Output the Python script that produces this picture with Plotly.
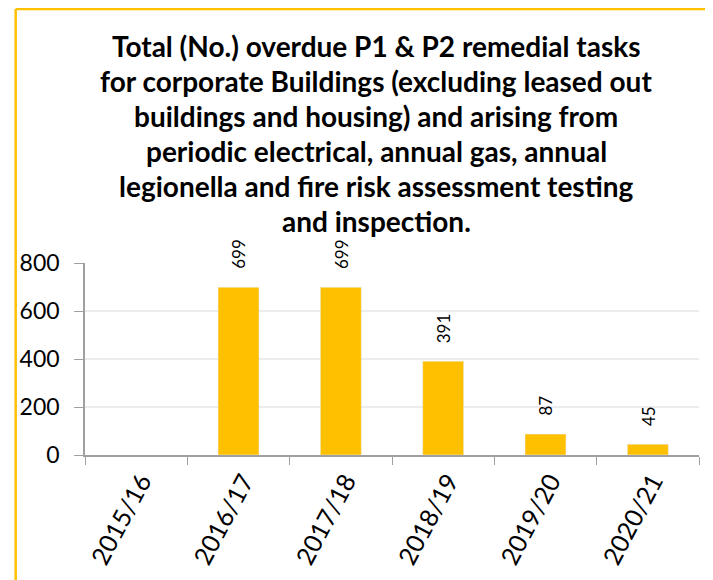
import plotly.graph_objects as go

years = ["2015/16", "2016/17", "2017/18", "2018/19", "2019/20", "2020/21"]
overdue = [None, 699, 699, 391, 87, 45]
title_lines = [
    "Total (No.) overdue P1 & P2 remedial tasks",
    "for corporate Buildings (excluding leased out",
    "buildings and housing) and arising from",
    "periodic electrical, annual gas, annual",
    "legionella and fire risk assessment testing",
    "and inspection.",
]

W, H = 713, 580
OFF = 8  # page margin around the figure
L, R, T, B = 71, 22, 255, 133
gold = "rgb(255,192,0)"


def px_x(px):
    # page pixel -> paper x
    return (px - OFF - L) / (W - L - R)


def px_y(py):
    return (H - B - (py - OFF)) / (H - T - B)


fig = go.Figure()
fig.add_trace(go.Bar(x=years, y=overdue, marker_color=gold, width=0.4))

# data labels above the bars
for yr, v in zip(years, overdue):
    if v is None:
        continue
    fig.add_annotation(x=yr, y=v, text=str(v), showarrow=False, textangle=-90,
                       yanchor="bottom", yshift=16,
                       font=dict(family="Lato", size=17, color="black"))

# title, one annotation per line
for i, line in enumerate(title_lines):
    fig.add_annotation(x=px_x(373), y=px_y(46 + 35 * i), xref="paper", yref="paper",
                       text="<b>" + line + "</b>", showarrow=False,
                       xanchor="center", yanchor="middle",
                       font=dict(family="Lato", size=28, color="black"))

# gold frame (top and left edges visible)
fig.add_shape(type="line", xref="paper", yref="paper",
              x0=px_x(9), x1=px_x(W + 10), y0=px_y(9), y1=px_y(9),
              line=dict(color=gold, width=2.5))
fig.add_shape(type="line", xref="paper", yref="paper",
              x0=px_x(9), x1=px_x(9), y0=px_y(9), y1=px_y(H + 10),
              line=dict(color=gold, width=2.5))

fig.update_layout(
    width=W, height=H,
    margin=dict(l=L, r=R, t=T, b=B),
    plot_bgcolor="white", paper_bgcolor="white",
    showlegend=False,
    font=dict(family="Lato", color="black"),
)
fig.update_xaxes(type="category", showline=True, linecolor="#a0a0a0", linewidth=1.5,
                 ticks="outside", tickson="boundaries", ticklen=8, tickcolor="#a0a0a0",
                 tickangle=-62, ticklabelshift=5,
                 tickfont=dict(family="Lato", size=25, color="black"),
                 showgrid=False)
fig.update_yaxes(range=[0, 800], tickvals=[0, 200, 400, 600, 800],
                 showline=True, linecolor="#a0a0a0", linewidth=1.5,
                 ticks="outside", ticklen=9, tickcolor="#a0a0a0",
                 ticklabelstandoff=10,
                 tickfont=dict(family="Lato", size=23, color="black"),
                 showgrid=True, gridcolor="#ececec", gridwidth=1.5,
                 zeroline=False)

fig.write_html("out.html")
